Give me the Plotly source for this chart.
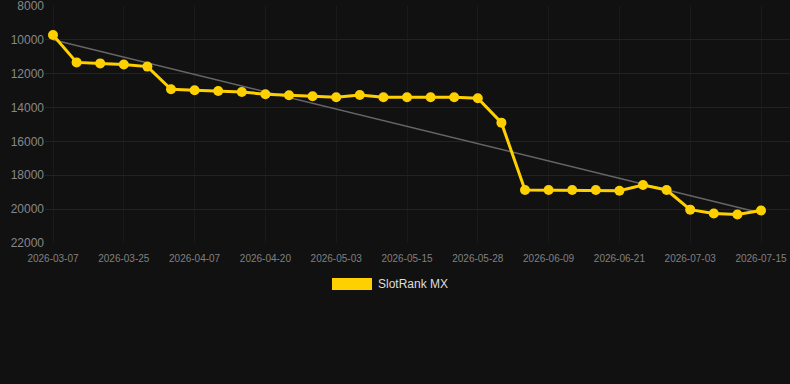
import numpy as np
import plotly.graph_objects as go

dates = ["2026-03-07", "2026-03-13", "2026-03-19", "2026-03-25", "2026-03-29", "2026-04-03",
         "2026-04-07", "2026-04-11", "2026-04-16", "2026-04-20", "2026-04-24", "2026-04-29",
         "2026-05-03", "2026-05-07", "2026-05-11", "2026-05-15", "2026-05-19", "2026-05-24",
         "2026-05-28", "2026-06-01", "2026-06-05", "2026-06-09", "2026-06-13", "2026-06-17",
         "2026-06-21", "2026-06-25", "2026-06-29", "2026-07-03", "2026-07-07", "2026-07-11",
         "2026-07-15"]
ranks = [9710, 11330, 11390, 11460, 11580, 12920, 12980, 13020, 13080, 13210,
         13270, 13330, 13390, 13260, 13390, 13390, 13390, 13390, 13450, 14890,
         18870, 18870, 18870, 18870, 18910, 18570, 18870, 20030, 20260, 20320, 20080]
tick_labels = dates[::3]
y_ticks = [8000, 10000, 12000, 14000, 16000, 18000, 20000, 22000]
series_name = "SlotRank MX"

idx = np.arange(len(ranks))
slope, intercept = np.polyfit(idx, ranks, 1)
trend = slope * idx + intercept

GOLD = "#FFD000"
fig = go.Figure()
fig.add_trace(go.Scatter(x=dates, y=trend, mode="lines",
                         line=dict(color="#666666", width=1.5),
                         showlegend=False, hoverinfo="skip"))
fig.add_trace(go.Scatter(x=dates, y=ranks, mode="lines+markers", name=series_name,
                         line=dict(color=GOLD, width=3),
                         marker=dict(color=GOLD, size=10),
                         showlegend=False))

W, H = 790, 384
ml, mr, mt, mb = 45, 0, 6, 141
n = len(dates)
ppx = 708 / (n - 1)
fig.update_layout(
    width=W, height=H,
    margin=dict(l=ml, r=mr, t=mt, b=mb),
    paper_bgcolor="#111111", plot_bgcolor="#111111",
    font=dict(family="Arial, Liberation Sans, sans-serif", color="#888888"),
    xaxis=dict(type="category", range=[-8 / ppx, (n - 1) + 29 / ppx],
               tickmode="array", tickvals=tick_labels, ticktext=tick_labels,
               showgrid=True, gridcolor="#1a1a1a", gridwidth=1,
               zeroline=False, showline=False, ticks="", ticklabelstandoff=8,
               tickfont=dict(size=10, color="#808080")),
    yaxis=dict(range=[22000.5, 7999.5], tickmode="array", tickvals=y_ticks,
               ticktext=[str(v) for v in y_ticks], ticklabeloverflow="allow",
               showgrid=True, gridcolor="#222222", gridwidth=1, zeroline=False,
               showline=False, ticks="", tickfont=dict(size=12, color="#888888")),
    showlegend=False,
)
fig.add_shape(type="rect", xref="paper", yref="paper",
              x0=(332 - ml) / (W - ml - mr), x1=(372 - ml) / (W - ml - mr),
              y0=-(278 - (H - mb)) / (H - mt - mb), y1=-(290 - (H - mb)) / (H - mt - mb),
              fillcolor=GOLD, line=dict(width=0))
fig.add_annotation(xref="paper", yref="paper", x=(378 - ml) / (W - ml - mr),
                   y=-(284 - (H - mb)) / (H - mt - mb), text=series_name, showarrow=False,
                   xanchor="left", yanchor="middle", xshift=-2,
                   font=dict(size=12, color="#dddddd"))
fig.write_html("out.html")
